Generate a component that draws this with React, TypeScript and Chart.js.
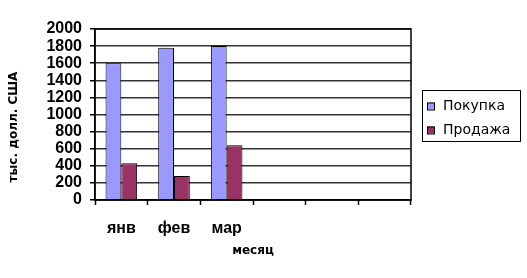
import React, { useEffect, useRef } from "react";
import { Chart, registerables } from "chart.js";

Chart.register(...registerables);

const categories = ["янв", "фев", "мар", "", "", ""];
const seriesNames = ["Покупка", "Продажа"];
const purchases = [1600, 1780, 1800, null, null, null];
const sales = [430, 280, 640, null, null, null];
const yMin = 0;
const yMax = 2000;
const yStep = 200;
const colors = ["#9999FF", "#993366"];

const FONT = "'Liberation Sans', Arial, sans-serif";
const WIDE = "'DejaVu Sans', Verdana, sans-serif";

const framePlugin = {
  id: "frame",
  afterDraw(chart: any) {
    const { ctx, chartArea } = chart;
    ctx.save();
    ctx.strokeStyle = "#000";
    ctx.lineWidth = 1.5;
    ctx.strokeRect(chartArea.left, chartArea.top, chartArea.right - chartArea.left, chartArea.bottom - chartArea.top);
    // legend box
    const lx = chartArea.right + 11;
    const ly = 90;
    const lw = 98;
    const lh = 51;
    ctx.lineWidth = 1;
    ctx.strokeRect(lx + 0.5, ly + 0.5, lw, lh);
    ctx.font = `14px ${WIDE}`;
    ctx.textBaseline = "middle";
    ctx.textAlign = "left";
    chart.data.datasets.forEach((ds: any, i: number) => {
      const cy = ly + 16 + i * 24;
      ctx.fillStyle = ds.backgroundColor;
      ctx.fillRect(lx + 5, cy - 3.5, 7, 7);
      ctx.strokeStyle = "#000";
      ctx.strokeRect(lx + 5.5, cy - 3, 7, 7);
      ctx.fillStyle = "#000";
      ctx.fillText(ds.label, lx + 21, cy);
    });
    ctx.restore();
  },
};

export default function App() {
  const ref = useRef<HTMLCanvasElement>(null);
  useEffect(() => {
    if (!ref.current) return;
    const chart = new Chart(ref.current, {
      type: "bar",
      data: {
        labels: categories,
        datasets: [
          {
            label: seriesNames[0],
            data: purchases,
            backgroundColor: colors[0],
            borderColor: "#000",
            borderWidth: 1,
            categoryPercentage: 0.6,
            barPercentage: 1.0,
          },
          {
            label: seriesNames[1],
            data: sales,
            backgroundColor: colors[1],
            borderColor: "#000",
            borderWidth: 1,
            categoryPercentage: 0.6,
            barPercentage: 1.0,
          },
        ],
      },
      options: {
        animation: false,
        responsive: true,
        maintainAspectRatio: false,
        layout: { padding: { left: 0, top: 29, right: 116, bottom: 0 } },
        plugins: {
          legend: { display: false },
          tooltip: { enabled: false },
        },
        scales: {
          x: {
            afterFit: (s: any) => {
              s.height = 78;
            },
            grid: {
              offset: true,
              drawOnChartArea: false,
              drawTicks: true,
              tickLength: 5,
              tickColor: "#000",
              tickWidth: 1.5,
            },
            border: { display: true, color: "#000", width: 1.5 },
            ticks: {
              color: "#000",
              font: { family: FONT, size: 16, weight: "bold" },
              padding: 14,
              maxRotation: 0,
              autoSkip: false,
            },
            title: {
              display: true,
              text: "месяц",
              color: "#000",
              font: { family: WIDE, size: 12, weight: "bold" },
              padding: { top: 0, bottom: 20 },
            },
          },
          y: {
            min: yMin,
            max: yMax,
            afterFit: (s: any) => {
              s.width = 95;
            },
            grid: {
              color: "#333",
              lineWidth: 1.5,
              tickLength: 5,
              tickColor: "#000",
              tickWidth: 1.5,
            },
            border: { display: true, color: "#000", width: 1.5 },
            ticks: {
              stepSize: yStep,
              autoSkip: false,
              color: "#000",
              font: { family: FONT, size: 16, weight: "bold" },
              padding: 8,
              callback: (v: any) => String(v),
            },
            title: {
              display: true,
              text: "тыс. долл. США      ",
              color: "#000",
              font: { family: WIDE, size: 12, weight: "bold" },
              padding: { top: 7, bottom: 0 },
            },
          },
        },
      },
      plugins: [framePlugin],
    } as any);
    return () => chart.destroy();
  }, []);
  return (
    <div style={{ position: "fixed", left: 0, top: 0, width: 527, height: 278, background: "#fff" }}>
      <canvas ref={ref} />
    </div>
  );
}
